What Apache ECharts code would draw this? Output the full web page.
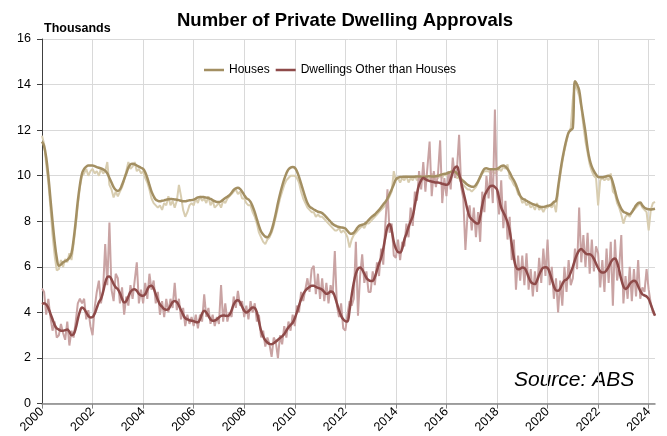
<!DOCTYPE html>
<html><head><meta charset="utf-8">
<script src="https://cdn.jsdelivr.net/npm/echarts@6/dist/echarts.min.js"></script>
<style>html,body{margin:0;padding:0;background:#fff}#c{width:667px;height:436px}</style>
</head><body><div id="c"></div>
<script>
const startYear = 2000;
const labelEveryMonths = 24;

const housesRaw = [
11.75,11.4,10.5,9.7,8.6,7.4,6.5,5.85,5.9,6.3,6.0,6.35,
6.2,6.6,6.3,7.0,7.8,8.7,9.5,10.0,10.1,10.3,10.0,10.2,
10.3,10.1,10.2,10.0,10.3,10.1,10.2,10.6,9.6,9.4,9.05,9.3,
9.1,9.3,9.5,9.8,10.2,10.6,10.3,10.4,10.6,10.2,10.3,10.1,
10.2,9.9,9.7,9.4,9.0,8.8,8.7,8.6,8.7,8.5,8.8,8.7,
9.1,8.7,8.9,8.6,8.9,9.6,9.1,8.5,8.2,8.4,8.7,8.8,
8.7,9.0,8.8,9.1,8.9,9.0,8.8,9.1,8.7,8.9,8.6,8.7,
8.8,8.6,8.9,8.8,9.0,9.1,9.2,9.3,9.4,9.2,9.3,9.0,
9.0,8.8,8.7,8.7,8.4,8.2,7.9,7.5,7.3,7.1,7.0,7.2,
7.3,7.5,7.8,8.2,8.6,9.0,9.3,9.6,9.8,9.9,10.0,10.0,
10.0,9.9,9.7,9.3,9.0,8.8,8.6,8.5,8.4,8.4,8.2,8.3,
8.2,8.2,8.1,8.0,7.9,7.8,7.7,7.6,7.6,7.7,7.5,7.6,
7.5,7.3,6.85,7.2,7.4,7.5,7.6,7.7,7.8,7.7,7.9,7.9,
8.0,8.1,8.2,8.3,8.4,8.5,8.6,8.7,8.9,9.1,9.3,10.2,
9.8,9.9,9.7,9.9,9.8,10.0,9.7,9.9,9.8,10.0,9.8,9.9,
9.9,9.8,10.0,9.8,9.9,10.1,9.8,10.0,9.9,10.0,9.9,10.1,
10.0,10.1,10.0,10.2,10.1,9.9,9.9,9.7,9.6,9.5,9.4,9.4,
9.3,9.4,9.5,9.7,9.9,10.1,10.2,10.2,10.2,10.1,10.2,10.1,
10.2,10.3,10.2,10.4,10.3,10.5,9.9,9.8,9.6,9.5,9.2,9.1,
8.8,8.9,8.7,8.8,8.6,8.7,8.5,8.8,8.5,8.6,8.4,8.6,
8.6,8.7,8.6,8.8,8.4,9.3,10.0,10.6,11.1,11.5,11.9,12.1,
13.35,14.0,13.8,13.5,13.0,12.2,11.5,11.0,10.5,10.2,10.0,9.9,
8.7,9.8,9.9,9.8,9.9,9.8,10.1,9.3,9.2,8.8,8.6,8.3,
7.9,8.2,8.3,8.2,8.4,8.5,8.6,8.7,8.8,8.6,8.5,8.4,
7.6,8.5,8.8,8.85
];

const housesTrend = [
11.5,11.3,10.8,10.0,9.0,8.0,7.1,6.4,6.05,6.1,6.2,6.25,
6.3,6.4,6.6,7.2,8.0,8.9,9.6,10.1,10.3,10.4,10.45,10.45,
10.45,10.42,10.38,10.35,10.32,10.28,10.22,10.1,9.9,9.7,9.5,9.38,
9.33,9.4,9.6,9.85,10.1,10.35,10.5,10.53,10.5,10.45,10.4,10.35,
10.3,10.15,9.9,9.6,9.3,9.1,8.95,8.9,8.88,8.9,8.92,8.95,
8.97,8.98,8.97,8.96,8.95,8.93,8.9,8.88,8.88,8.9,8.92,8.93,
8.95,9.0,9.05,9.07,9.07,9.06,9.04,9.02,8.98,8.93,8.88,8.85,
8.85,8.88,8.95,9.02,9.08,9.15,9.25,9.38,9.45,9.47,9.42,9.3,
9.15,9.02,8.96,8.85,8.65,8.4,8.1,7.8,7.55,7.42,7.33,7.3,
7.4,7.62,7.95,8.35,8.8,9.2,9.55,9.85,10.1,10.28,10.36,10.38,
10.35,10.2,9.95,9.65,9.35,9.05,8.8,8.65,8.58,8.52,8.47,8.42,
8.4,8.36,8.28,8.18,8.08,7.98,7.88,7.82,7.78,7.75,7.73,7.72,
7.68,7.58,7.48,7.45,7.5,7.62,7.75,7.82,7.85,7.88,7.95,8.05,
8.15,8.23,8.3,8.4,8.5,8.62,8.74,8.85,9.0,9.2,9.4,9.62,
9.84,9.92,9.94,9.95,9.96,9.96,9.96,9.96,9.96,9.96,9.97,9.97,
9.96,9.96,9.96,9.97,9.98,9.97,9.97,9.98,10.0,10.03,10.06,10.08,
10.1,10.13,10.17,10.2,10.18,10.1,9.98,9.85,9.77,9.68,9.6,9.55,
9.52,9.52,9.6,9.75,9.95,10.15,10.3,10.33,10.3,10.28,10.28,10.28,
10.3,10.35,10.42,10.45,10.4,10.3,10.15,9.95,9.8,9.6,9.35,9.12,
9.0,8.96,8.9,8.85,8.8,8.75,8.72,8.7,8.65,8.63,8.63,8.65,
8.68,8.7,8.75,8.85,8.9,9.5,10.15,10.72,11.2,11.6,11.9,12.0,
12.1,14.15,14.0,13.75,13.1,12.5,11.9,11.2,10.7,10.4,10.2,10.05,
9.95,9.93,9.93,9.95,9.98,10.0,9.95,9.7,9.35,9.0,8.75,8.55,
8.42,8.38,8.33,8.31,8.4,8.55,8.7,8.8,8.82,8.7,8.6,8.55,
8.53,8.52,8.53,8.55
];

const otherRaw = [
5.05,4.9,3.9,4.6,3.8,3.2,3.6,2.9,3.0,3.5,3.1,2.8,
3.6,2.55,3.2,2.9,3.6,4.4,4.6,4.4,4.6,3.7,4.1,3.4,
3.0,4.2,4.9,5.4,4.4,5.0,7.0,5.2,7.95,5.0,4.5,5.7,
5.5,4.4,5.1,3.9,4.7,4.3,5.2,4.6,5.4,6.2,4.4,5.0,
4.4,5.3,4.6,5.7,5.0,5.4,4.4,4.9,3.9,4.5,3.8,4.6,
4.0,4.6,4.2,5.3,4.1,4.6,3.7,4.2,3.4,3.9,3.5,3.8,
3.4,3.9,3.3,3.9,3.6,4.8,3.8,4.2,3.5,3.9,3.4,3.8,
3.5,5.2,3.6,4.4,3.6,4.0,3.8,4.7,4.2,4.95,4.3,4.5,
3.8,4.3,3.7,4.5,4.0,4.4,3.6,3.9,2.9,3.2,2.5,2.9,
2.6,2.05,2.9,2.7,2.0,3.0,2.6,3.4,2.9,3.6,3.2,3.9,
3.4,4.3,4.0,4.9,4.5,5.0,5.5,4.9,5.9,6.05,4.8,5.7,
4.6,5.5,4.5,5.3,4.4,5.2,4.8,6.7,4.3,3.8,4.4,3.3,
3.2,3.9,4.5,4.3,4.6,7.1,3.86,5.6,6.55,5.3,5.8,4.9,
4.9,5.8,5.2,6.2,5.6,6.8,6.1,7.9,9.4,7.5,7.9,6.5,
6.4,7.2,6.3,7.1,6.9,7.9,7.3,8.6,7.8,9.3,8.9,10.2,
9.4,10.6,9.3,10.4,11.5,9.1,10.2,9.5,10.1,11.55,8.8,9.9,
9.1,10.2,9.4,10.8,9.9,10.3,11.8,9.5,9.0,6.74,8.3,8.7,
7.6,8.6,7.3,8.4,7.1,9.3,8.4,10.0,9.0,10.3,8.8,12.9,
9.2,8.3,9.8,7.7,8.9,7.2,8.2,6.3,7.2,5.0,6.5,5.4,
6.5,5.2,6.6,5.0,5.9,4.7,5.8,4.9,6.4,5.3,6.8,5.6,
7.2,5.2,6.0,4.6,5.5,4.0,5.4,4.3,6.0,4.9,6.3,5.2,
5.5,6.8,5.9,8.6,6.2,7.4,6.0,7.5,5.7,7.2,5.8,6.9,
6.6,5.1,6.3,4.9,6.8,5.3,7.1,4.3,7.2,5.4,6.0,7.4,
4.4,5.6,4.6,6.0,4.5,5.9,4.7,6.3,4.6,5.1,4.9,5.9,
5.0,4.4,4.0,3.86
];

const otherTrend = [
4.37,4.4,4.35,4.2,3.95,3.7,3.45,3.3,3.25,3.2,3.2,3.22,
3.25,3.15,3.0,3.05,3.3,3.7,4.05,4.22,4.15,4.0,3.85,3.78,
3.8,3.95,4.2,4.45,4.6,4.9,5.3,5.55,5.58,5.45,5.25,5.1,
5.02,4.85,4.6,4.44,4.5,4.7,4.9,5.0,5.02,4.95,4.82,4.75,
4.73,4.8,5.0,5.15,5.17,5.05,4.8,4.55,4.35,4.25,4.15,4.12,
4.15,4.3,4.45,4.5,4.45,4.3,4.1,3.9,3.75,3.7,3.66,3.64,
3.62,3.58,3.57,3.7,3.95,4.07,4.0,3.85,3.7,3.64,3.65,3.7,
3.78,3.85,3.87,3.86,3.85,3.9,4.1,4.35,4.5,4.54,4.45,4.25,
4.08,4.0,4.05,4.15,4.22,4.2,4.0,3.6,3.2,2.95,2.78,2.68,
2.62,2.61,2.65,2.72,2.8,2.88,2.95,3.05,3.2,3.35,3.45,3.55,
3.75,4.0,4.3,4.58,4.8,4.95,5.05,5.12,5.17,5.17,5.12,5.08,
5.05,5.0,4.9,4.82,4.85,4.92,4.9,4.7,4.4,4.1,3.85,3.7,
3.62,3.6,4.1,4.75,5.3,5.7,5.92,5.97,5.88,5.7,5.52,5.42,
5.38,5.39,5.55,5.85,6.15,6.4,6.8,7.3,7.75,7.87,7.6,7.1,
6.8,6.65,6.63,6.8,7.2,7.45,7.75,8.0,8.23,8.7,9.2,9.6,
9.8,9.9,9.85,9.8,9.77,9.75,9.72,9.7,9.7,9.68,9.65,9.62,
9.6,9.65,9.85,10.15,10.35,10.4,10.1,9.7,9.3,8.9,8.5,8.2,
8.09,8.0,7.92,7.9,8.2,8.7,9.1,9.3,9.45,9.55,9.56,9.5,
9.4,9.0,8.6,8.4,8.2,7.95,7.6,7.0,6.4,6.0,5.9,5.92,
5.97,5.95,5.8,5.55,5.35,5.27,5.25,5.4,5.65,5.85,5.97,5.98,
5.95,5.75,5.45,5.15,4.97,4.95,5.05,5.25,5.4,5.45,5.55,5.75,
6.0,6.3,6.55,6.72,6.78,6.7,6.6,6.55,6.55,6.5,6.35,6.15,
5.95,5.8,5.75,5.76,5.85,6.0,6.2,6.33,6.37,6.2,5.85,5.45,
5.15,5.03,5.1,5.25,5.35,5.39,5.35,5.15,4.95,4.8,4.75,4.7,
4.59,4.35,4.1,3.86
];

const categories = [];
for (let i = 0; i < housesTrend.length; i++) {
  const y = startYear + Math.floor(i / 12);
  const m = (i % 12) + 1;
  categories.push(y + '-' + (m < 10 ? '0' : '') + m);
}
const tickAt = (idx) => idx % labelEveryMonths === 0;

const chart = echarts.init(document.getElementById('c'), null, {renderer: 'canvas'});
const FONT = '"Liberation Sans", Arial, sans-serif';
chart.setOption({
  animation: false,
  backgroundColor: '#ffffff',
  textStyle: {fontFamily: FONT},
  title: {
    text: 'Number of Private Dwelling Approvals',
    left: 172, top: 6,
    textStyle: {fontSize: 18.5, fontWeight: 'bold', color: '#000', fontFamily: FONT}
  },
  legend: {
    data: ['Houses', 'Dwellings Other than Houses'],
    left: 199, top: 59,
    icon: 'rect', itemWidth: 20, itemHeight: 2.5, itemGap: 6,
    textStyle: {fontSize: 12, color: '#000', fontFamily: FONT}
  },
  graphic: [
    {type: 'text', left: 44, top: 22, style: {text: 'Thousands', font: 'bold 12.5px ' + FONT, fill: '#000'}},
    {type: 'text', left: 514, top: 370, style: {text: 'Source: ABS', font: 'italic 21px ' + FONT, fill: '#000'}}
  ],
  grid: {left: 42, right: 12, top: 39, bottom: 31, containLabel: false},
  xAxis: {
    type: 'category', data: categories, boundaryGap: false,
    axisLine: {lineStyle: {color: '#868686', width: 1.5}},
    axisTick: {show: true, interval: (i) => tickAt(i), length: 5, lineStyle: {color: '#868686'}},
    axisLabel: {interval: (i) => tickAt(i), rotate: 45, fontSize: 12.5, color: '#000', margin: 6,
      formatter: (v) => v.slice(0, 4)},
    splitLine: {show: true, interval: (i) => tickAt(i), lineStyle: {color: '#d9d9d9', width: 1}}
  },
  yAxis: {
    type: 'value', min: 0, max: 16, interval: 2,
    axisLine: {show: true, lineStyle: {color: '#404040', width: 1}},
    axisTick: {show: true, length: 5, lineStyle: {color: '#404040'}},
    axisLabel: {fontSize: 12.5, color: '#000', margin: 11},
    splitLine: {show: true, lineStyle: {color: '#d9d9d9', width: 1}}
  },
  series: [
    {name: 'Houses (original)', type: 'line', data: housesRaw, showSymbol: false,
      lineStyle: {color: '#d8cdb0', width: 2}, itemStyle: {color: '#d8cdb0'}},
    {name: 'Dwellings Other than Houses (original)', type: 'line', data: otherRaw, showSymbol: false,
      lineStyle: {color: '#c9a3a3', width: 2}, itemStyle: {color: '#c9a3a3'}},
    {name: 'Houses', type: 'line', data: housesTrend, showSymbol: false, smooth: 0.4,
      lineStyle: {color: '#a38f62', width: 2.5}, itemStyle: {color: '#a38f62'}},
    {name: 'Dwellings Other than Houses', type: 'line', data: otherTrend, showSymbol: false, smooth: 0.4,
      lineStyle: {color: '#8e4a49', width: 2.5}, itemStyle: {color: '#8e4a49'}}
  ]
});
</script>
</body></html>
